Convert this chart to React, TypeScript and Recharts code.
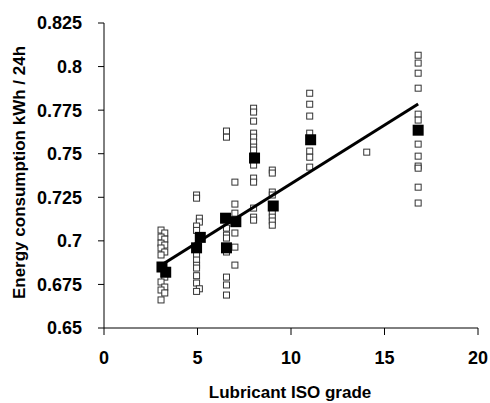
import { ScatterChart, Scatter, XAxis, YAxis, Label } from 'recharts'

// open squares: individual measurements, grouped by ISO grade column
const grade3X = [3.05, 3.25, 3.05, 3.25, 3.05, 3.25, 3.05, 3.25, 3.05, 3.25, 3.05, 3.25, 3.05, 3.25, 3.05]
const grade3Y = [0.7062, 0.7045, 0.7022, 0.701, 0.6987, 0.6976, 0.6959, 0.6936, 0.6919, 0.6792, 0.6764, 0.6735, 0.6718, 0.6701, 0.6661]

const grade5X = [4.95, 4.95, 5.1, 5.1, 4.95, 4.95, 4.95, 4.95, 4.95, 4.95, 4.95, 4.95, 5.1, 4.95]
const grade5Y = [0.7263, 0.7245, 0.713, 0.7108, 0.7085, 0.706, 0.6919, 0.689, 0.686, 0.6844, 0.68, 0.6758, 0.6725, 0.671]

const grade65X = [6.55, 6.55, 6.55, 6.55, 6.55, 6.55, 6.55, 6.55, 6.55]
const grade65Y = [0.763, 0.7595, 0.7073, 0.7033, 0.7016, 0.6936, 0.6792, 0.6747, 0.6689]

const grade7X = [7.0, 7.0, 7.0, 7.0, 7.0, 7.0]
const grade7Y = [0.7337, 0.7211, 0.7159, 0.7045, 0.6964, 0.6861]

const grade8X = [8.0, 8.0, 8.0, 8.0, 8.0, 8.0, 8.0, 8.0, 8.0, 8.0, 8.0, 8.0, 8.0, 8.0]
const grade8Y = [0.7761, 0.7739, 0.7687, 0.7618, 0.7595, 0.7567, 0.7538, 0.7521, 0.7435, 0.736, 0.7337, 0.7188, 0.7136, 0.7119]

const grade9X = [9.0, 9.0, 9.0, 9.0, 9.0, 9.0, 9.0, 9.0]
const grade9Y = [0.7406, 0.7389, 0.728, 0.7263, 0.716, 0.7136, 0.7114, 0.709]

const grade11X = [11.0, 11.0, 11.0, 11.0, 11.0, 11.0, 11.0, 14.05]
const grade11Y = [0.7847, 0.7784, 0.7716, 0.7618, 0.7515, 0.748, 0.7423, 0.7509]

const grade17X = [16.8, 16.8, 16.8, 16.8, 16.8, 16.8, 16.8, 16.8, 16.8, 16.8, 16.8, 16.8]
const grade17Y = [0.8065, 0.802, 0.7962, 0.7876, 0.7727, 0.7693, 0.7555, 0.7486, 0.7429, 0.7417, 0.7308, 0.7217]

// filled squares: group means
const meanX = [3.1, 3.3, 4.95, 5.15, 6.5, 7.05, 6.55, 8.05, 9.05, 11.05, 16.8]
const meanY = [0.685, 0.682, 0.696, 0.702, 0.713, 0.711, 0.696, 0.7475, 0.72, 0.758, 0.7635]

// linear trend line endpoints
const trendX = [3.2, 16.8]
const trendY = [0.687, 0.7785]

const xTicks = [0, 5, 10, 15, 20]
const yTicks = [0.65, 0.675, 0.7, 0.725, 0.75, 0.775, 0.8, 0.825]

const zip = (xs: number[], ys: number[]) => xs.map((x, i) => ({ x, y: ys[i] }))

const openPoints = [
  ...zip(grade3X, grade3Y),
  ...zip(grade5X, grade5Y),
  ...zip(grade65X, grade65Y),
  ...zip(grade7X, grade7Y),
  ...zip(grade8X, grade8Y),
  ...zip(grade9X, grade9Y),
  ...zip(grade11X, grade11Y),
  ...zip(grade17X, grade17Y),
]
const meanPoints = zip(meanX, meanY)
const trendPoints = zip(trendX, trendY)

const FONT = '"Liberation Sans", Arial, sans-serif'
const tickStyle = { fontSize: 18, fontWeight: 700, fill: '#000', fontFamily: FONT }

const OpenSquare = (p: any) => (
  <rect x={p.cx - 3} y={p.cy - 3} width={6} height={6} fill="#fff" stroke="#333" strokeWidth={1} />
)
const FilledSquare = (p: any) => (
  <rect x={p.cx - 5.5} y={p.cy - 5.5} width={11} height={11} fill="#000" />
)
const NoDot = () => <g />

export default function App() {
  return (
    <div style={{ position: 'absolute', left: 0, top: 0, background: '#fff' }}>
      <ScatterChart width={490} height={403} margin={{ top: 23, right: 12, bottom: 30, left: 0 }}>
        <XAxis
          type="number"
          dataKey="x"
          domain={[0, 20]}
          ticks={xTicks}
          height={45}
          tick={tickStyle}
          tickSize={7}
          tickMargin={16}
          stroke="#000"
        >
          <Label
            content={({ viewBox }: any) => (
              <text
                x={viewBox.x + viewBox.width / 2 - 1}
                y={398}
                textAnchor="middle"
                style={{ fontSize: 17, fontWeight: 700, fontFamily: FONT, fill: '#000' }}
              >
                Lubricant ISO grade
              </text>
            )}
          />
        </XAxis>
        <YAxis
          type="number"
          dataKey="y"
          domain={[0.65, 0.825]}
          ticks={yTicks}
          width={104}
          tick={tickStyle}
          tickSize={6}
          tickMargin={16}
          stroke="#000"
          tickFormatter={(v: number) => String(Number(v.toFixed(3)))}
        >
          <Label
            content={({ viewBox }: any) => {
              const cy = viewBox.y + viewBox.height / 2 - 3
              return (
                <text
                  x={25}
                  y={cy}
                  transform={`rotate(-90 25 ${cy})`}
                  textAnchor="middle"
                  style={{ fontSize: 17, fontWeight: 700, fontFamily: FONT, fill: '#000' }}
                >
                  Energy consumption kWh / 24h
                </text>
              )
            }}
          />
        </YAxis>
        <Scatter data={openPoints} shape={OpenSquare} isAnimationActive={false} />
        <Scatter
          data={trendPoints}
          line={{ stroke: '#000', strokeWidth: 3 }}
          shape={NoDot}
          isAnimationActive={false}
        />
        <Scatter data={meanPoints} shape={FilledSquare} isAnimationActive={false} />
      </ScatterChart>
    </div>
  )
}
